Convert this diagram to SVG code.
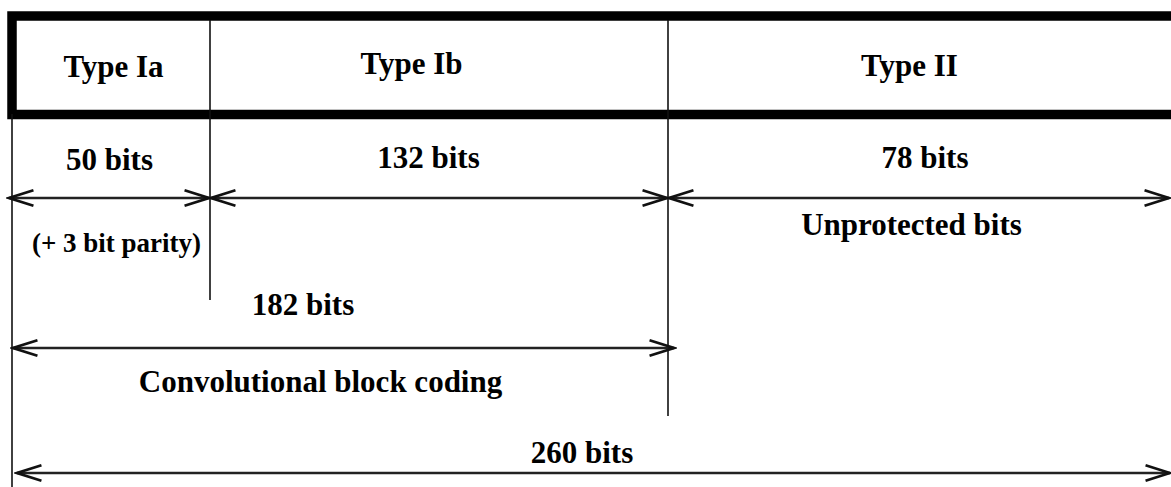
<svg xmlns="http://www.w3.org/2000/svg" width="1171" height="487" viewBox="0 0 1171 487">
<defs>
<style>
.t{font-family:"Liberation Serif","Times New Roman",serif;font-weight:bold;font-size:31px;fill:#000;text-anchor:middle}
.s{font-size:27px}
.v{stroke:#111;stroke-width:1.6;fill:none}
.a{stroke:#222;stroke-width:2.4;fill:none;marker-start:url(#ah);marker-end:url(#ah)}
</style>
<marker id="ah" markerUnits="userSpaceOnUse" markerWidth="30" markerHeight="20" viewBox="-24 -9 26 18" refX="0" refY="0" orient="auto-start-reverse">
<path d="M-22,-7 L0,0 L-22,7" fill="none" stroke="#111" stroke-width="2.4" stroke-linejoin="miter"/>
</marker>
</defs>
<rect width="1171" height="487" fill="#fff"/>
<g id="frame">
<rect x="12" y="16" width="1175" height="98.5" fill="none" stroke="#000" stroke-width="9.5"/>
</g>
<g id="dividers">
<line class="v" x1="12" y1="114" x2="12" y2="487"/>
<line class="v" x1="210" y1="20" x2="210" y2="300"/>
<line class="v" x1="668" y1="20" x2="668" y2="416"/>
</g>
<g id="typeIa"><text class="t" x="113.5" y="77">Type Ia</text></g>
<g id="typeIb"><text class="t" x="411.5" y="74">Type Ib</text></g>
<g id="typeII"><text class="t" x="909.5" y="76">Type II</text></g>
<g id="labels">
<text class="t" x="109.5" y="170">50 bits</text>
<text class="t" x="428.5" y="168">132 bits</text>
<text class="t" x="925" y="168">78 bits</text>
<text class="t s" x="116.5" y="252">(+ 3 bit parity)</text>
<text class="t" x="911.5" y="235">Unprotected bits</text>
<text class="t" x="303" y="315">182 bits</text>
<text class="t" x="320.5" y="392">Convolutional block coding</text>
<text class="t" x="582" y="463">260 bits</text>
</g>
<g id="connectors">
<line class="a" x1="9" y1="198" x2="209" y2="198"/>
<line class="a" x1="211" y1="198" x2="667" y2="198"/>
<line class="a" x1="669" y1="198" x2="1169" y2="198"/>
<line class="a" x1="13" y1="348" x2="674" y2="348"/>
<line class="a" x1="17" y1="473" x2="1170" y2="473"/>
</g>
</svg>
